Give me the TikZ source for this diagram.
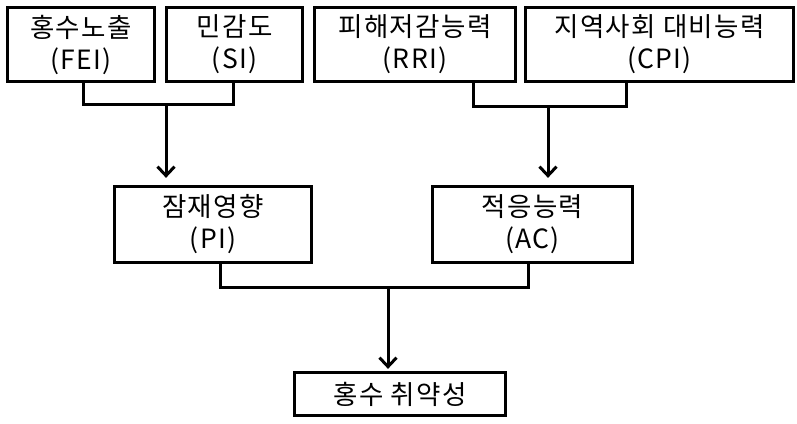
\documentclass[tikz,border=0pt]{standalone}
\usepackage{fontspec}
\setmainfont[LetterSpace=5]{Noto Sans CJK KR}
\usetikzlibrary{positioning, arrows.meta}
\tikzset{
	>={Straight Barb[length=9pt,width=17pt]}, % punta abierta en V
	caja/.style={draw, line width=3.3pt, inner sep=0pt, align=center,
		font=\fontsize{26.5}{32}\selectfont}, % propiedades de las cajas
	cajasup/.style={caja, minimum height=74pt}, % fila superior
	cajamed/.style={caja, minimum height=76pt}, % fila intermedia
	linea/.style={line width=3pt}, % conectores
	x=1pt, y=-1pt % unidades en pixeles, eje y hacia abajo
}

\begin{document}
\begin{tikzpicture}
	\useasboundingbox (0,0) rectangle (797,423);
	\node[cajasup, minimum width=147pt] (fei) at (81,44.5) {홍수노출\\(FEI)};
	\node[cajasup, minimum width=136pt] (si) at (234.5,44.5) {민감도\\(SI)};
	\node[cajasup, minimum width=201pt] (rri) at (415,44.5) {피해저감능력\\(RRI)};
	\node[cajasup, minimum width=268pt] (cpi) at (659.5,44.5) {지역사회 대비능력\\(CPI)};
	\node[cajamed, minimum width=197pt] (pi) at (213,224.5) {잠재영향\\(PI)};
	\node[cajamed, minimum width=200pt] (ac) at (532.5,224.5) {적응능력\\(AC)};
	\node[caja, minimum width=211pt, minimum height=43pt] (hv) at (400,394) {홍수 취약성};
	\coordinate (j1) at (166,104);
	\coordinate (j2) at (548,106);
	\coordinate (j3) at (388,287);
	\draw[linea] ([xshift=2pt]fei.south) |- (j1) -| ([xshift=-1.5pt]si.south);
	\draw[linea] ([xshift=58pt]rri.south) |- (j2) -| ([xshift=-33.5pt]cpi.south);
	\draw[linea] ([xshift=7pt]pi.south) |- (j3) -| ([xshift=-4.5pt]ac.south);
	\draw[linea, ->, shorten >=7pt] (j1) -- (j1 |- pi.north);
	\draw[linea, ->, shorten >=7pt] (j2) -- (j2 |- ac.north);
	\draw[linea, ->, shorten >=2pt] (j3) -- (j3 |- hv.north);
\end{tikzpicture}
\end{document}
